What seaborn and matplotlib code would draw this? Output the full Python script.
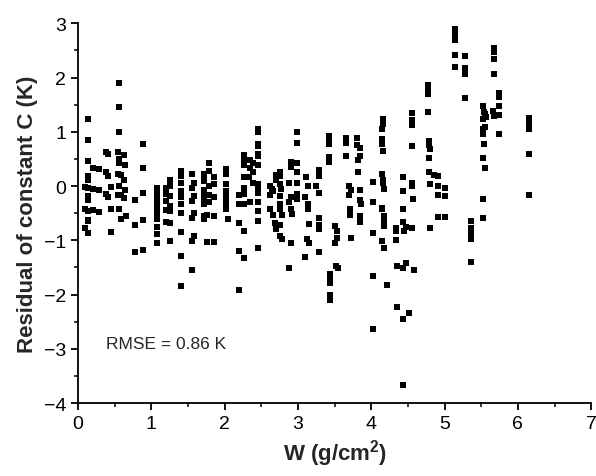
import numpy as np
import pandas as pd
import matplotlib
matplotlib.use("Agg")
import matplotlib.pyplot as plt
import seaborn as sns
from matplotlib.ticker import MultipleLocator

# ---- data (W in g/cm2, residual in K) ---- #
w = [
    0.09, 0.09, 0.09, 0.13, 0.13, 0.13, 0.13, 0.13, 0.13, 0.13, 0.13, 0.13, 0.13, 0.13, 0.13,
    0.20, 0.20, 0.20, 0.29, 0.29, 0.29,
    0.38, 0.41, 0.38, 0.41, 0.38, 0.41, 0.45, 0.45, 0.45,
    0.56, 0.56, 0.56, 0.54, 0.62, 0.56, 0.56, 0.64, 0.54, 0.59, 0.62, 0.56, 0.64, 0.54, 0.59,
    0.62, 0.56, 0.65, 0.58,
    0.77, 0.77, 0.77, 0.88, 0.88, 0.88, 0.88, 0.88,
    1.07, 1.07, 1.07, 1.07, 1.07, 1.07, 1.07, 1.07, 1.07, 1.07,
    1.20, 1.20, 1.20, 1.20, 1.20,
    1.26, 1.26, 1.26, 1.26, 1.26, 1.26, 1.26,
    1.41, 1.41, 1.41, 1.41, 1.41, 1.41, 1.41, 1.41, 1.41, 1.41,
    1.56, 1.58, 1.56, 1.58, 1.56, 1.58, 1.56, 1.58, 1.56, 1.56,
    1.78, 1.78, 1.72, 1.72, 1.72, 1.78, 1.72, 1.72, 1.72, 1.72, 1.78, 1.78, 1.72, 1.72, 1.76, 1.76,
    1.86, 1.86, 1.86, 1.86, 1.86,
    2.02, 2.02, 2.02, 2.02, 2.02, 2.02, 2.02, 2.02, 2.04,
    2.27, 2.27, 2.27, 2.27, 2.27, 2.27, 2.27, 2.27, 2.27, 2.20, 2.20, 2.20, 2.20, 2.20,
    2.35, 2.38, 2.35, 2.38, 2.33, 2.38, 2.35,
    2.46, 2.46, 2.46, 2.46, 2.46, 2.46, 2.46, 2.46, 2.46, 2.46, 2.46, 2.46, 2.46, 2.46,
    2.62, 2.64, 2.66, 2.62, 2.62, 2.66, 2.69, 2.70, 2.70, 2.70,
    2.75, 2.76, 2.75, 2.77, 2.76, 2.75, 2.76, 2.78, 2.75, 2.76, 2.78,
    2.90, 2.90, 2.88, 2.90, 2.88, 2.90, 2.92, 2.90, 2.88,
    2.98, 2.98, 2.98, 2.98, 2.98, 2.98, 2.98,
    3.11, 3.13, 3.10, 3.13, 3.14, 3.15, 3.12, 3.15, 3.09,
    3.28, 3.28, 3.25, 3.28, 3.29, 3.29, 3.29, 3.29,
    3.42, 3.42, 3.42, 3.42, 3.42, 3.43, 3.43, 3.43, 3.43, 3.43,
    3.51, 3.53, 3.53, 3.51, 3.52, 3.54,
    3.65, 3.65, 3.65,
    3.70, 3.72, 3.70, 3.71, 3.71, 3.72,
    3.81, 3.81, 3.85, 3.85, 3.82, 3.82, 3.84, 3.84, 3.86, 3.84, 3.84,
    4.02, 4.02, 4.02, 4.02, 4.02,
    4.16, 4.16, 4.14, 4.14, 4.14, 4.16, 4.14, 4.16, 4.16, 4.17, 4.14, 4.15, 4.17, 4.17, 4.17,
    4.15, 4.17, 4.22,
    4.34, 4.34, 4.34, 4.35, 4.35,
    4.43, 4.43, 4.43, 4.43, 4.44, 4.48, 4.43, 4.48, 4.43, 4.51, 4.43,
    4.55, 4.55, 4.55, 4.55, 4.56, 4.55, 4.57, 4.56, 4.58,
    4.77, 4.77, 4.77, 4.78, 4.79, 4.79, 4.80, 4.79, 4.79, 4.85, 4.80, 4.80,
    4.91, 4.91, 4.91, 4.91,
    5.00, 5.00, 5.00,
    5.14, 5.14, 5.14, 5.14, 5.14,
    5.28, 5.28, 5.28, 5.28,
    5.36, 5.36, 5.36, 5.36, 5.36,
    5.53, 5.54, 5.56, 5.52, 5.55, 5.52, 5.55, 5.53, 5.54, 5.52, 5.55, 5.53, 5.52,
    5.68, 5.68, 5.68, 5.68, 5.66, 5.67,
    5.74, 5.74, 5.74, 5.74, 5.74,
    6.15, 6.15, 6.15, 6.15, 6.15, 6.15,
]

resid = [
    -0.02, -0.42, -0.78, 1.23, 0.85, 0.46, 0.18, 0.12, -0.03, -0.18, -0.25, -0.46, -0.62, -0.65, -0.86,
    0.34, -0.05, -0.45, 0.32, -0.07, -0.47,
    0.63, 0.59, 0.25, 0.18, -0.15, -0.21, -0.01, -0.42, -0.85,
    1.90, 1.46, 0.99, 0.62, 0.57, 0.50, 0.43, 0.38, 0.22, 0.20, 0.12, 0.01, -0.07, -0.17, -0.17,
    -0.22, -0.42, -0.55, -0.60,
    -0.25, -0.72, -1.21, 0.77, 0.34, -0.13, -0.63, -1.17,
    -0.03, -0.12, -0.18, -0.28, -0.38, -0.49, -0.60, -0.75, -0.89, -1.05,
    -0.03, -0.15, -0.27, -0.44, -0.66,
    0.12, 0.00, -0.18, -0.37, -0.46, -0.69, -1.02,
    0.28, 0.18, 0.06, -0.09, -0.21, -0.34, -0.49, -0.85, -1.29, -1.84,
    0.23, 0.06, -0.03, -0.18, -0.28, -0.49, -0.58, -0.92, -1.02, -1.54,
    0.43, 0.28, 0.23, 0.17, 0.10, 0.01, -0.08, -0.17, -0.26, -0.34, -0.17, -0.30, -0.56, -0.60, -0.54, -1.03,
    0.17, 0.03, -0.20, -0.55, -1.03,
    0.31, 0.23, 0.03, -0.09, -0.15, -0.25, -0.37, -0.43, -0.60,
    0.57, 0.49, 0.39, 0.17, -0.03, -0.15, -0.34, -0.83, -1.32, -0.17, -0.33, -0.69, -1.20, -1.91,
    0.48, 0.43, 0.33, 0.26, 0.17, 0.06, -0.30,
    1.05, 0.99, 0.78, 0.73, 0.60, 0.55, 0.38, 0.03, -0.06, -0.12, -0.29, -0.46, -0.64, -1.14,
    0.00, -0.05, -0.10, -0.16, -0.43, -0.54, -0.68, -0.80, 0.20, 0.12,
    0.25, 0.18, 0.03, -0.06, -0.18, -0.34, -0.43, -0.54, -0.71, -0.92, -0.98,
    0.44, 0.35, 0.06, -0.21, -0.30, -0.43, -0.52, -1.05, -1.51,
    0.99, 0.80, 0.42, 0.25, 0.06, -0.14, -0.23,
    0.16, 0.00, -0.21, -0.34, -0.43, -0.70, -0.98, -1.05, -1.30,
    0.30, 0.18, 0.00, -0.12, -0.58, -0.72, -0.80, -1.21,
    0.92, 0.85, 0.77, 0.53, 0.44, -1.63, -1.70, -1.78, -2.00, -2.10,
    -0.73, -0.83, -0.95, -1.05, -1.48, -1.52,
    0.88, 0.79, 0.55,
    0.00, -0.08, -0.16, -0.43, -0.53, -0.95,
    0.88, 0.76, 0.70, 0.55, 0.48, 0.26, -0.08, -0.25, -0.34, -0.55, -0.67,
    0.07, -0.29, -0.86, -1.66, -2.64,
    1.23, 1.15, 1.05, 0.86, 0.77, 0.65, 0.22, 0.12, 0.05, -0.06, -0.40, -0.43, -0.55, -0.65, -0.74,
    -1.02, -1.14, -1.83,
    -0.77, -0.83, -1.00, -1.48, -2.23,
    0.17, -0.10, -0.42, -0.67, -0.82, -0.76, -1.51, -1.42, -2.45, -2.34, -3.67,
    1.34, 1.22, 1.12, 0.73, 0.06, 0.00, -0.23, -0.77, -1.55,
    1.86, 1.77, 1.69, 1.36, 0.83, 0.75, 0.68, 0.52, 0.26, 0.20, 0.03, -0.77,
    0.18, 0.00, -0.16, -0.57,
    -0.04, -0.18, -0.57,
    2.90, 2.80, 2.70, 2.42, 2.20,
    2.40, 2.17, 2.06, 1.63,
    -0.65, -0.78, -0.86, -0.97, -1.40,
    1.47, 1.36, 1.27, 1.23, 1.32, 1.05, 1.08, 0.96, 0.77, 0.52, 0.34, -0.23, -0.58,
    2.54, 2.47, 2.34, 2.06, 1.39, 1.30,
    1.71, 1.65, 1.48, 1.31, 0.96,
    1.25, 1.18, 1.14, 1.06, 0.60, -0.17,
]

x_ticks = [0, 1, 2, 3, 4, 5, 6, 7]
y_ticks = [-4, -3, -2, -1, 0, 1, 2, 3]
rmse_label = "RMSE = 0.86 K"

df = pd.DataFrame({"W": w, "resid": resid})

sns.set_style("ticks")
plt.rcParams["font.family"] = ["Liberation Sans", "DejaVu Sans"]
plt.rcParams["mathtext.fontset"] = "custom"
plt.rcParams["mathtext.bf"] = "Liberation Sans:bold"
plt.rcParams["mathtext.rm"] = "Liberation Sans"

fig = plt.figure(figsize=(5.96, 4.77), dpi=100)
ax = fig.add_axes([0.131, 0.153, 0.861, 0.796])

sns.scatterplot(data=df, x="W", y="resid", marker="s", s=13, color="black",
                linewidth=0, ax=ax, legend=False)

ax.set_xlim(0, 7)
ax.set_ylim(-4, 3)
ax.set_xticks(x_ticks)
ax.set_yticks(y_ticks)
ax.xaxis.set_minor_locator(MultipleLocator(0.5))
ax.yaxis.set_minor_locator(MultipleLocator(0.5))

for side in ["top", "right"]:
    ax.spines[side].set_visible(False)
for side in ["left", "bottom"]:
    ax.spines[side].set_linewidth(1.3)
    ax.spines[side].set_color("black")

ax.tick_params(which="major", direction="out", length=5, width=1.3,
               labelsize=14, colors="black")
ax.tick_params(which="minor", direction="out", length=3, width=1.1, colors="black")

ax.set_xlabel(r"W (g/cm$\mathbf{^2}$)", fontsize=16, fontweight="bold", labelpad=4)
ax.set_ylabel("Residual of constant C (K)", fontsize=16, fontweight="bold", labelpad=4)

ax.text(0.38, -2.9, rmse_label, fontsize=12.5, va="center", ha="left")

fig.savefig("out.png", dpi=100)
